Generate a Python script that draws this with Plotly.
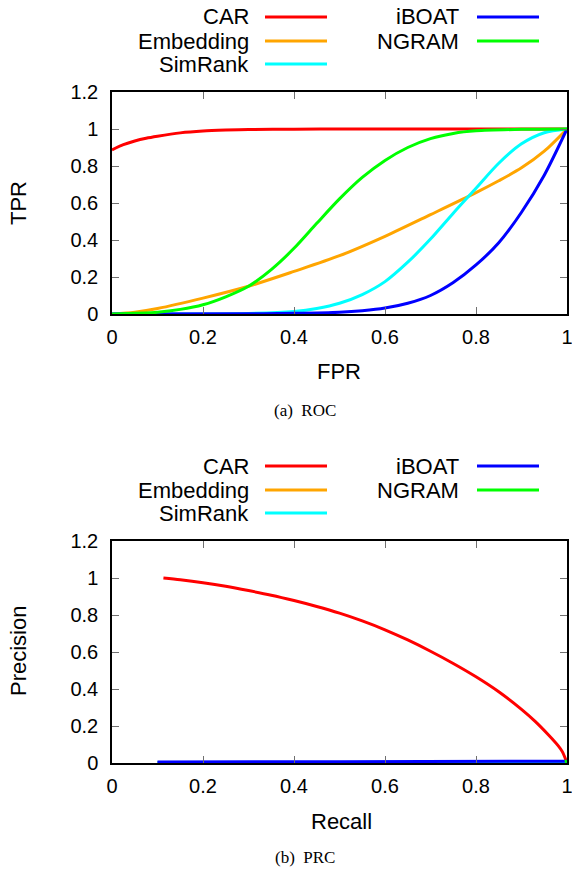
import plotly.graph_objects as go

# ---------------- data ----------------
series_names = ["CAR", "Embedding", "SimRank", "iBOAT", "NGRAM"]
series_colors = ["#ff0000", "#ffa500", "#00ffff", "#0000ff", "#00ff00"]

# ROC (FPR -> TPR)
roc_car_x = [0.0, 0.025, 0.05, 0.075, 0.1, 0.15, 0.2, 0.25, 0.3, 0.4, 0.5, 0.7, 1.0]
roc_car_y = [0.887, 0.915, 0.935, 0.95, 0.961, 0.979, 0.989, 0.994, 0.997, 0.999, 1.0, 1.0, 1.0]

roc_emb_x = [0.0, 0.05, 0.1, 0.2, 0.3, 0.4, 0.5, 0.6, 0.7, 0.8, 0.85, 0.9, 0.95, 1.0]
roc_emb_y = [0.0, 0.01, 0.03, 0.086, 0.15, 0.23, 0.315, 0.42, 0.537, 0.656, 0.72, 0.79, 0.88, 1.0]

roc_sim_x = [0.0, 0.3, 0.4, 0.45, 0.5, 0.55, 0.6, 0.65, 0.7, 0.75, 0.8, 0.85, 0.9, 0.95, 1.0]
roc_sim_y = [0.0, 0.003, 0.014, 0.03, 0.058, 0.105, 0.175, 0.28, 0.405, 0.545, 0.68, 0.815, 0.92, 0.98, 1.0]

roc_iboat_x = [0.0, 0.3, 0.4, 0.5, 0.55, 0.6, 0.65, 0.7, 0.75, 0.8, 0.85, 0.9, 0.95, 1.0]
roc_iboat_y = [0.0, 0.001, 0.004, 0.01, 0.018, 0.032, 0.058, 0.1, 0.17, 0.265, 0.385, 0.55, 0.75, 1.0]

roc_ngram_x = [0.0, 0.1, 0.15, 0.2, 0.25, 0.3, 0.35, 0.4, 0.45, 0.5, 0.55, 0.6, 0.65, 0.7, 0.75, 0.8, 0.9, 1.0]
roc_ngram_y = [0.0, 0.01, 0.025, 0.05, 0.093, 0.15, 0.24, 0.355, 0.49, 0.622, 0.738, 0.83, 0.9, 0.948, 0.976, 0.99, 0.998, 1.0]

# PRC (Recall -> Precision)
prc_car_x = [0.113, 0.15, 0.2, 0.25, 0.3, 0.35, 0.4, 0.45, 0.5, 0.55, 0.6, 0.65, 0.7,
             0.75, 0.8, 0.85, 0.9, 0.93, 0.96, 0.98, 0.99, 1.0]
prc_car_y = [1.0, 0.99, 0.974, 0.955, 0.932, 0.907, 0.878, 0.846, 0.81, 0.768, 0.72, 0.665, 0.604,
             0.538, 0.466, 0.385, 0.29, 0.225, 0.15, 0.095, 0.06, 0.0]
prc_emb_x = [0.1, 0.5, 1.0]
prc_emb_y = [0.003, 0.003, 0.004]
prc_sim_x = [0.1, 0.5, 1.0]
prc_sim_y = [0.003, 0.003, 0.004]
prc_iboat_x = [0.1, 0.5, 1.0]
prc_iboat_y = [0.006, 0.007, 0.01]
prc_ngram_x = [0.995, 1.0]
prc_ngram_y = [0.008, 0.01]

x_ticks = [0, 0.2, 0.4, 0.6, 0.8, 1]
x_tick_labels = ["0", "0.2", "0.4", "0.6", "0.8", "1"]
y_ticks = [0, 0.2, 0.4, 0.6, 0.8, 1, 1.2]
y_tick_labels = ["0", "0.2", "0.4", "0.6", "0.8", "1", "1.2"]

roc_data = [(roc_car_x, roc_car_y), (roc_emb_x, roc_emb_y), (roc_sim_x, roc_sim_y),
            (roc_iboat_x, roc_iboat_y), (roc_ngram_x, roc_ngram_y)]
prc_data = [(prc_car_x, prc_car_y), (prc_emb_x, prc_emb_y), (prc_sim_x, prc_sim_y),
            (prc_iboat_x, prc_iboat_y), (prc_ngram_x, prc_ngram_y)]

# ---------------- layout helpers ----------------
W, H = 572, 870
FONT = "Liberation Sans, Arial, sans-serif"
SERIF = "Liberation Serif, Times New Roman, serif"

def px(x):
    return x / W

def py(y):
    return 1 - y / H

fig = go.Figure()

for i, (xs, ys) in enumerate(roc_data):
    fig.add_trace(go.Scatter(x=xs, y=ys, mode="lines", name=series_names[i],
                             line=dict(color=series_colors[i], width=3, shape="spline", smoothing=0.8),
                             xaxis="x", yaxis="y", showlegend=False))
for i, (xs, ys) in enumerate(prc_data):
    fig.add_trace(go.Scatter(x=xs, y=ys, mode="lines", name=series_names[i],
                             line=dict(color=series_colors[i], width=3, shape="spline", smoothing=0.8),
                             xaxis="x2", yaxis="y2", showlegend=False))

x_dom = [px(112), px(567)]
top_dom = [py(314), py(92)]
bot_dom = [py(763), py(541)]

axis_common = dict(showgrid=False, zeroline=False, showline=True, linecolor="black", linewidth=1.5,
                   mirror="allticks", ticks="inside", ticklen=7, tickwidth=1, tickcolor="#707070",
                   tickfont=dict(family=FONT, size=20, color="black"), automargin=False,
                   ticklabeloverflow="allow")

fig.update_layout(
    width=W, height=H, margin=dict(l=0, r=0, t=0, b=0),
    paper_bgcolor="white", plot_bgcolor="white", showlegend=False,
    xaxis=dict(domain=x_dom, anchor="y", range=[0, 1], tickvals=x_ticks, ticktext=x_tick_labels,
               ticklabelstandoff=4, **axis_common),
    yaxis=dict(domain=top_dom, anchor="x", range=[0, 1.2], tickvals=y_ticks, ticktext=y_tick_labels,
               ticklabelstandoff=8, **axis_common),
    xaxis2=dict(domain=x_dom, anchor="y2", range=[0, 1], tickvals=x_ticks, ticktext=x_tick_labels,
                ticklabelstandoff=4, **axis_common),
    yaxis2=dict(domain=bot_dom, anchor="x2", range=[0, 1.2], tickvals=y_ticks, ticktext=y_tick_labels,
                ticklabelstandoff=8, **axis_common),
)

annotations = []
shapes = []

def add_text(x, y, text, size=22, family=FONT, xanchor="center", angle=0):
    annotations.append(dict(x=px(x), y=py(y), xref="paper", yref="paper", text=text, showarrow=False,
                            xanchor=xanchor, yanchor="middle", textangle=angle,
                            font=dict(family=family, size=size, color="black")))

# axis titles and captions
add_text(339, 372, "FPR")
add_text(18, 203, "TPR", angle=-90)
add_text(305, 410, "(a)  ROC", size=17, family=SERIF)
add_text(341, 821, "Recall")
add_text(18, 651, "Precision", angle=-90)
add_text(305, 857, "(b)  PRC", size=17, family=SERIF)

# legends (gnuplot style: text right-aligned, sample line to the right)
legend_cols = [(251, 265, 327), (461, 477, 539)]
legend_slots = [(0, 0), (0, 1), (0, 2), (1, 0), (1, 1)]
for base in (0, 449):
    rows = [17 + base, 41 + base, 64 + base]
    for i, name in enumerate(series_names):
        c, r = legend_slots[i]
        tx, lx0, lx1 = legend_cols[c]
        add_text(tx, rows[r], name, xanchor="right")
        shapes.append(dict(type="line", xref="paper", yref="paper",
                           x0=px(lx0), x1=px(lx1), y0=py(rows[r]), y1=py(rows[r]),
                           line=dict(color=series_colors[i], width=3)))

fig.update_layout(annotations=annotations, shapes=shapes)

# place the figure flush with the window (no page margin, no scrollbars)
page_js = ("document.documentElement.style.margin='0';"
           "document.body.style.margin='0';"
           "document.documentElement.style.overflow='hidden';"
           "document.body.style.overflow='hidden';")

fig.write_html("out.html", post_script=page_js, config={"displayModeBar": False})
